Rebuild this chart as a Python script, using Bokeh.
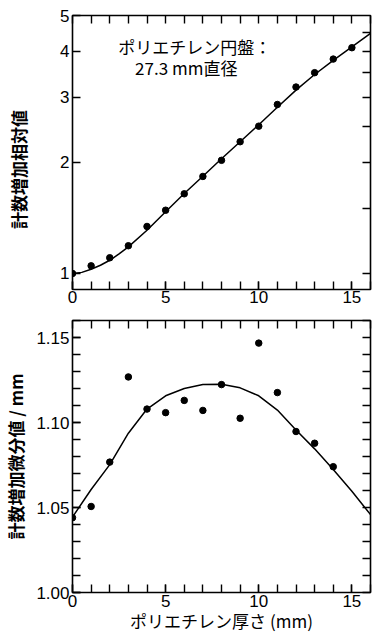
import numpy as np
from bokeh.plotting import figure
from bokeh.models import LinearAxis, LogAxis, FixedTicker, PrintfTickFormatter, Label
from bokeh.layouts import column
from bokeh.embed import file_html
from bokeh.resources import INLINE

# ---- data ----
thickness = [0, 1, 2, 3, 4, 5, 6, 7, 8, 9, 10, 11, 12, 13, 14, 15]
rel_count = [1.00, 1.049, 1.103, 1.189, 1.341, 1.484, 1.644, 1.832, 2.026,
             2.275, 2.507, 2.87, 3.20, 3.50, 3.81, 4.09]
fit_rel_x = [0, 0.5, 1, 1.5, 2, 2.5, 3, 4, 5, 6, 7, 8, 9, 10, 11, 12, 13, 14, 15, 16]
fit_rel_y = [1.0, 1.007, 1.027, 1.053, 1.086, 1.13, 1.181, 1.31, 1.47, 1.647,
             1.835, 2.045, 2.275, 2.53, 2.82, 3.14, 3.46, 3.78, 4.11, 4.47]

diff_x = [0, 1, 2, 3, 4, 5, 6, 7, 8, 9, 10, 11, 12, 13, 14]
diff_y = [1.044, 1.0506, 1.0767, 1.1268, 1.1079, 1.1058, 1.113, 1.1071, 1.1223,
          1.1025, 1.1467, 1.1176, 1.0947, 1.0878, 1.074]
fit_diff_x = [0, 1, 2, 3, 4, 5, 6, 7, 8, 9, 10, 11, 12, 13, 14, 15, 16]
fit_diff_y = [1.0444, 1.0606, 1.0752, 1.0937, 1.1079, 1.1157, 1.12, 1.1223, 1.1225,
              1.1204, 1.1157, 1.1073, 1.0956, 1.0845, 1.0723, 1.0596, 1.0458]

top_y_ticks = [1, 2, 3, 4, 5]
top_right_ticks = [1, 1.5, 2, 2.5, 3, 3.5, 4, 4.5]
x_major = [0, 5, 10, 15]
x_minor = list(range(0, 17))
bot_y_major = [1.00, 1.05, 1.10, 1.15]
bot_y_minor = [round(1.0 + 0.01 * i, 2) for i in range(17)]

TICK_FONT = "Liberation Sans"
CJK = "Noto Sans CJK JP"


def style_fig(p):
    p.xgrid.visible = False
    p.ygrid.visible = False
    p.outline_line_color = "black"
    p.outline_line_width = 1.6
    p.background_fill_color = "white"
    p.border_fill_color = "white"


def style_axis(ax, standoff=3):
    ax.axis_line_color = None
    ax.major_tick_in = 8
    ax.major_tick_out = 0
    ax.minor_tick_in = 8
    ax.minor_tick_out = 0
    ax.major_tick_line_width = 1.4
    ax.minor_tick_line_width = 1.4
    ax.major_tick_line_color = "black"
    ax.minor_tick_line_color = "black"
    ax.major_label_text_font = TICK_FONT
    ax.major_label_text_color = "black"
    ax.major_label_text_font_size = "17px"
    ax.major_label_standoff = standoff


def tick_only_axis(cls, minor):
    # axis that only draws inward tick marks (no labels)
    ax = cls(ticker=FixedTicker(ticks=[], minor_ticks=minor))
    style_axis(ax, standoff=0)
    return ax


# ---------------- top plot ----------------
p1 = figure(width=372, height=312, x_range=(0, 16), y_range=(0.905, 5),
            y_axis_type="log", output_backend="svg", toolbar_location=None,
            min_border_left=62, min_border_right=2, min_border_top=15, min_border_bottom=23)
style_fig(p1)
p1.xaxis.ticker = FixedTicker(ticks=x_major, minor_ticks=x_minor)
style_axis(p1.xaxis[0], standoff=1)
p1.yaxis.ticker = FixedTicker(ticks=top_y_ticks)
p1.yaxis.formatter = PrintfTickFormatter(format="%d")
style_axis(p1.yaxis[0], standoff=3)
p1.yaxis.axis_label = "計数増加相対値\u3000\u3000"
p1.yaxis.axis_label_text_font = CJK
p1.yaxis.axis_label_text_font_size = "17px"
p1.yaxis.axis_label_text_font_style = "bold"
p1.yaxis.axis_label_text_color = "black"
p1.yaxis.axis_label_standoff = 26

p1.add_layout(tick_only_axis(LogAxis, top_right_ticks), "right")
p1.add_layout(tick_only_axis(LinearAxis, x_minor), "above")

p1.line(fit_rel_x, fit_rel_y, line_color="black", line_width=1.5)
p1.scatter(thickness, rel_count, size=6.5, fill_color="black", line_color="black")

p1.add_layout(Label(x=2.45, y=4.12, text="ポリエチレン円盤：", text_font=CJK,
                    text_font_size="17px", text_color="black",
                    text_align="left", text_baseline="middle"))
p1.add_layout(Label(x=3.36, y=3.62, text="27.3 mm直径", text_font=CJK,
                    text_font_size="17px", text_color="black",
                    text_align="left", text_baseline="middle"))

# ---------------- bottom plot ----------------
p2 = figure(width=372, height=326, x_range=(0, 16), y_range=(1.0, 1.16),
            output_backend="svg", toolbar_location=None,
            min_border_left=62, min_border_right=2, min_border_top=8, min_border_bottom=46)
style_fig(p2)
p2.xaxis.ticker = FixedTicker(ticks=x_major, minor_ticks=x_minor)
style_axis(p2.xaxis[0], standoff=2)
p2.xaxis.axis_label = "ポリエチレン厚さ (mm)"
p2.xaxis.axis_label_text_font = CJK
p2.xaxis.axis_label_text_font_size = "17px"
p2.xaxis.axis_label_text_font_style = "normal"
p2.xaxis.axis_label_text_color = "black"
p2.xaxis.axis_label_standoff = -2

p2.yaxis.ticker = FixedTicker(ticks=bot_y_major, minor_ticks=bot_y_minor)
p2.yaxis.formatter = PrintfTickFormatter(format="%.2f")
style_axis(p2.yaxis[0], standoff=3)
p2.yaxis.axis_label = "計数増加微分値 / mm"
p2.yaxis.axis_label_text_font = CJK
p2.yaxis.axis_label_text_font_size = "17px"
p2.yaxis.axis_label_text_font_style = "bold"
p2.yaxis.axis_label_text_color = "black"
p2.yaxis.axis_label_standoff = 5

p2.add_layout(tick_only_axis(LinearAxis, bot_y_minor), "right")
p2.add_layout(tick_only_axis(LinearAxis, x_minor), "above")

p2.line(fit_diff_x, fit_diff_y, line_color="black", line_width=1.5)
p2.scatter(diff_x, diff_y, size=6.5, fill_color="black", line_color="black")

layout = column(p1, p2)
open("out.html", "w").write(file_html(layout, INLINE))
